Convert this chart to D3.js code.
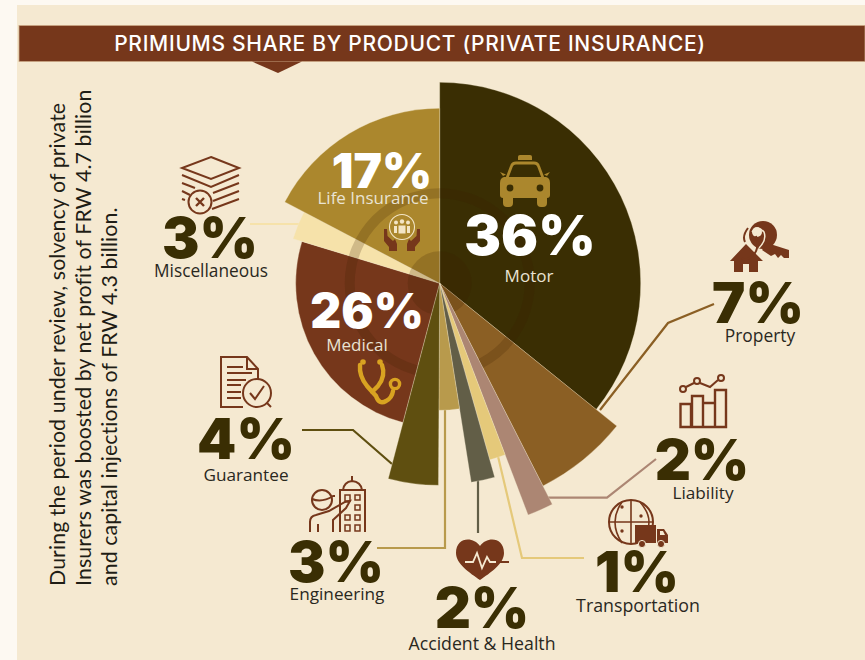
<!DOCTYPE html>
<html><head><meta charset="utf-8">
<script src="https://cdn.jsdelivr.net/npm/d3@7"></script>
<style>html,body{margin:0;padding:0;background:#fdf9f2;overflow:hidden}svg{display:block}</style>
</head><body><svg id="c" width="865" height="660"></svg>
<script>
// ---- data ----
const products = ["Motor","Property","Liability","Transportation","Accident & Health","Engineering","Guarantee","Medical","Miscellaneous","Life Insurance"];
const shareLabels = ["36%","7%","2%","1%","2%","3%","4%","26%","3%","17%"];
const drawnShares = [35.8,6.7,1.7,1.4,1.9,2.6,4.0,25.6,3.0,17.3];
const radialValues = [80.4,91,99.2,73.4,80.6,50.8,80.8,57.6,61.3,70];
const sliceColors = ["#3a2e03","#8b5f24","#ac8673","#e5c97a","#625e47","#b89a4c","#5f4f10","#76371b","#f6e2aa","#ab872d"];
const chartTitle = "PRIMIUMS SHARE BY PRODUCT (PRIVATE INSURANCE)";
const sideNote = ["During the period under review, solvency of private","Insurers was boosted by net profit of FRW 4.7 billion","and capital injections of FRW 4.3 billion."];
const underRing = ["Motor","Property","Medical","Miscellaneous","Life Insurance"];

const BROWN="#76371b", DARK="#3a2e03", INK="#2a281e", PANEL="#f5e9d1", TAXI="#ab872d";
const svg=d3.select("#c");
svg.append("rect").attr("x",17).attr("y",5).attr("width",848).attr("height",655).attr("fill",PANEL);
svg.append("rect").attr("x",19).attr("y",25.5).attr("width",846).attr("height",36).attr("fill",BROWN).attr("stroke","#c9a582").attr("stroke-width",.8);
svg.append("path").attr("d","M252,61.5L278,73L302,61.5Z").attr("fill",BROWN);
svg.append("text").text(chartTitle).attr("x",410).attr("y",51).attr("text-anchor","middle")
  .attr("fill","#fff").attr("font-family","Inter").attr("font-weight",500).attr("font-size",21).attr("letter-spacing",.7);

// side note
svg.append("g").selectAll("text").data(sideNote).join("text")
  .attr("transform",(d,i)=>`translate(${65+i*26},586) rotate(-90)`).text(d=>d)
  .attr("fill","#1f1d15").attr("font-family","Lato").attr("font-weight",400).attr("font-size",21.3).attr("letter-spacing",.1);

// pie
const cx=439.7, cy=283.3;
const rScale=d3.scaleLinear().domain([0,100]).range([0,250]);
const pie=d3.pie().sort(null).value(d=>d.share);
const rows=products.map((name,i)=>({name,share:drawnShares[i],rad:radialValues[i],color:sliceColors[i]}));
const arcs=pie(rows);
const arc=d3.arc().innerRadius(0).outerRadius(d=>rScale(d.data.rad));

// leader lines sit beneath slices
const leaders=[
 ["#8b5f24",[[600,410],[668,323],[714,304]]],
 ["#ac8673",[[540,497.7],[607,497.7],[656,459]]],
 ["#e5c97a",[[497,452],[522,558],[584,558]]],
 ["#625e47",[[478,478],[478,533]]],
 ["#b89a4c",[[445,405],[445,548],[377,548]]],
 ["#5f4f10",[[302,430],[353,430],[392,464]]],
 ["#f6e2aa",[[250,224],[300,224]]]];
const line=d3.line();
const leadG=svg.append("g");
leaders.forEach(([c,p])=>leadG.append("path").attr("d",line(p)).attr("fill","none").attr("stroke",c).attr("stroke-width",2.2));
const pieG=svg.append("g").attr("transform",`translate(${cx},${cy})`);
const paint=(sel)=>sel.attr("d",arc).attr("fill",d=>d.data.color).attr("stroke",PANEL).attr("stroke-width",.3);
pieG.selectAll("path.a").data(arcs.filter(d=>underRing.includes(d.data.name))).join("path").attr("class","a").call(paint);
pieG.append("path").attr("d",d3.arc()({innerRadius:85,outerRadius:95,startAngle:0,endAngle:2*Math.PI})).attr("fill","#3a1c00").attr("opacity",.2);
pieG.append("circle").attr("r",32).attr("fill","#3a1c00").attr("opacity",.2);
pieG.selectAll("path.b").data(arcs.filter(d=>!underRing.includes(d.data.name))).join("path").attr("class","b").call(paint);

// labels
const labelPos=[
 {px:530,py:255,pfs:55,lx:529,ly:282,lfs:17,light:true},
 {px:758,py:323,pfs:56,lx:760,ly:342,lfs:17.4},
 {px:702,py:480,pfs:56,lx:703,ly:498.5,lfs:17.2},
 {px:637,py:592,pfs:56,lx:638,ly:612,lfs:17.8},
 {px:482,py:628,pfs:56,lx:482,ly:650,lfs:17.7},
 {px:336,py:582,pfs:56,lx:337,ly:600,lfs:17.2},
 {px:246,py:459,pfs:56,lx:246,ly:481,lfs:17.2},
 {px:367,py:328,pfs:48,lx:357,ly:351,lfs:17,light:true},
 {px:210,py:258,pfs:56,lx:211,ly:277,lfs:17.3},
 {px:382,py:188,pfs:48,lx:373,ly:204,lfs:17,light:true}];
const tg=svg.append("g");
labelPos.forEach((p,i)=>{
  tg.append("text").text(shareLabels[i]).attr("x",p.px).attr("y",p.py).attr("text-anchor","middle")
    .attr("font-family","Inter").attr("font-weight",900).attr("font-size",p.pfs).attr("fill",p.light?"#fff":DARK);
  tg.append("text").text(products[i]).attr("x",p.lx).attr("y",p.ly).attr("text-anchor","middle")
    .attr("font-family","Open Sans").attr("font-weight",400).attr("font-size",p.lfs).attr("fill",p.light?"#e9e3d3":INK);
});

// icons
const ic=svg.append("g").attr("fill","none").attr("stroke",BROWN).attr("stroke-width",2).attr("stroke-linejoin","miter");
const P=(d,o={})=>{const e=ic.append("path").attr("d",d);for(const k in o)e.attr(k,o[k]);return e;};
const C=(x,y,r,o={})=>{const e=ic.append("circle").attr("cx",x).attr("cy",y).attr("r",r);for(const k in o)e.attr(k,o[k]);return e;};
const solid={fill:BROWN,stroke:"none"};
// taxi
const t={fill:TAXI,stroke:"none"};
P("M518,160V156.5Q518,155 520,155H530Q532,155 532,156.5V160Z",t);
P("M507,178L511.5,166Q512.5,163 516,163H534Q537.5,163 538.5,166L543,178",{stroke:TAXI,"stroke-width":2.8});
P("M504,177Q500,178 500,183V195Q500,198 503,198H547Q550,198 550,195V183Q550,178 546,177Z",t);
P("M503,198H513V203Q513,207 509,207H507Q503,207 503,203ZM537,198H547V203Q547,207 543,207H541Q537,207 537,203Z",t);
P("M500,172L506,174.5L503,176ZM550,172L544,174.5L547,176Z",t);
C(510,188,3.4,{fill:DARK,stroke:"none"});C(540,188,3.4,{fill:DARK,stroke:"none"});
// life insurance
C(402,227,12.5,{stroke:"#f3e5c5","stroke-width":1.1});
[[396,222.5,2],[402,221.5,2.2],[408,222.5,2]].forEach(a=>C(a[0],a[1],a[2],{fill:"#f3e5c5",stroke:"none"}));
P("M394,226h3v7h-3zM398.5,225.5h7v8h-7zM407,226h3v7h-3z",{fill:"#f3e5c5",stroke:"none"});
P("M384,229L387,229L387.5,236L393,241L395,239L397,244V251H389V247L384,241Z",solid);
P("M420,229L417,229L416.5,236L411,241L409,239L407,244V251H415V247L420,241Z",solid);
// stethoscope
P("M360,365Q359,376 367,386L376,396Q379,405 386,401Q392,398 393,391M382,365Q386,376 378,386L372,392",{stroke:"#d9a321","stroke-width":4.4,"stroke-linecap":"round"});
C(363,362,2.8,{fill:"#d9a321",stroke:"none"});C(380,362,2.8,{fill:"#d9a321",stroke:"none"});
C(395,384,4.6,{stroke:"#d9a321","stroke-width":3.4});
// misc stack
P("M211,157L239,168L211,179L182,168Z");
P("M182,175L211,187L239,175");
P("M182,183L195,188M213,193L239,183M182,191L190,195M213,201L239,191M182,199L185,200M212,209L239,199");
C(200,202,11.5);P("M196,198L204,206M204,198L196,206",{"stroke-width":2.4});
// guarantee doc
P("M258,380V369L247,357H221V407H243M247,357V369H258");
P("M227,367H243M227,373H252M227,380H246M227,385H241M227,392H241M227,398H241");
C(257,393,14);P("M250,393L255,399L264,386M267,403L271,407");
// engineer
P("M340,532V490H365V532M343,490Q344,482 352,481Q361,482 362,490M352,481V476");
P("M345,495h5v6h-5zM355,495h5v5h-5zM355,505h5v5h-5zM345,515h5v5h-5zM355,515h5v5h-5zM345,525h5v6h-5zM355,525h5v6h-5z",{"stroke-width":1.5});
C(322,500,10);P("M312,499Q322,503 333,496L335,496");
P("M310,532V522Q310,516 316,515L329,511L345,502L350,501L346,508L333,520L333,532M318,532V524");
// heart
P("M480,546C473,536 456,537 456,553C456,564 470,573 480,580C490,573 504,564 504,553C504,537 487,536 480,546Z",solid);
P("M465,562H473L477,553L482,568L487,557L490,562H504",{stroke:"#f5e9d1","stroke-width":1.8});
P("M496,562H509",{"stroke-width":2});
// house + key
P("M746,244L763,261H758V272H749V264H743V272H734V261H730Z",solid);
C(763,235,14,solid);C(757,232,5,{fill:PANEL,stroke:"none"});
P("M767,243L789,250V258H784L781,255L778,258L775,254L771,256L762,250Z",solid);
P("M756,236Q760,250 752,256Q745,262 742,258M745,242Q742,236 748,228",{stroke:BROWN,"stroke-width":2});
P("M752,232Q758,225 764,232Q767,240 759,248",{stroke:PANEL,"stroke-width":1.5});
// liability chart
P("M680.5,404H691V427H680.5ZM692,396H703V427H692ZM703,403H715V427H703ZM715,390H726V427H715Z",{"stroke-width":2.4});
P("M686,387L694,383M700,383L710,387L718,380");
C(683,389,3,{"stroke-width":2});C(697,381,3,{"stroke-width":2});C(721,378,3,{"stroke-width":2});
// globe and truck
C(631,522,22);
P("M631,500V544M609,522H653M622,502Q608,522 622,543M640,502Q652,516 648,528",{"stroke-width":1.6});
[[622,507],[641,516],[622,531]].forEach(a=>C(a[0],a[1],1.7,solid));
P("M635,525H656V543H635Z",solid);
P("M657,529H664L668,535V543H657Z",solid);P("M660,531H663L665,535H660Z",{fill:PANEL,stroke:"none"});
C(642,544,3.6,{fill:BROWN,stroke:PANEL,"stroke-width":1});C(661,544,3.6,{fill:BROWN,stroke:PANEL,"stroke-width":1});
</script></body></html>
